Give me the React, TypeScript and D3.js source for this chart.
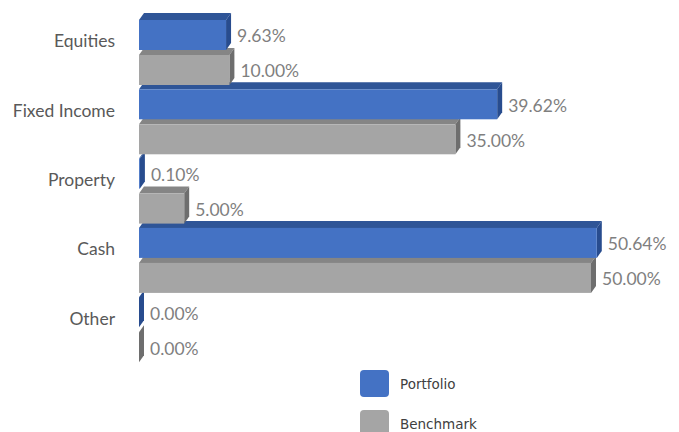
import React from "react";
import * as d3 from "d3";

const categories = ["Equities", "Fixed Income", "Property", "Cash", "Other"];
const seriesNames = ["Portfolio", "Benchmark"];
const portfolio = [9.63, 39.62, 0.1, 50.64, 0.0];
const benchmark = [10.0, 35.0, 5.0, 50.0, 0.0];

const W = 679;
const H = 432;
const DX = 5; // 3d depth, horizontal
const DY = 7; // 3d depth, vertical

const colors: Record<string, { front: string; top: string; side: string }> = {
  Portfolio: { front: "#4472C4", top: "#2F5597", side: "#284C8E" },
  Benchmark: { front: "#A5A5A5", top: "#858585", side: "#6E6E6E" },
};

export default function App() {
  const x = d3.scaleLinear().domain([0, 60]).range([139, 681.4]);
  const y = d3
    .scaleBand<string>()
    .domain(categories)
    .range([20, 362.2])
    .paddingInner(0.062)
    .paddingOuter(0);
  const ySub = d3
    .scaleBand<string>()
    .domain(seriesNames)
    .range([0, y.bandwidth()])
    .paddingInner(0.143);
  const h = ySub.bandwidth();

  const bars = categories.flatMap((c, i) =>
    seriesNames.map((s) => ({
      cat: c,
      series: s,
      value: s === "Portfolio" ? portfolio[i] : benchmark[i],
    }))
  );
  // paint from bottom to top so upper fronts cover lower top faces
  const ordered = [...bars].reverse();

  return (
    <svg
      width={W}
      height={H}
      style={{ position: "absolute", left: 0, top: 0, background: "#fff" }}
    >
      {ordered.map((b) => {
        const x0 = x(0);
        const x1 = x(b.value);
        const y0 = (y(b.cat) ?? 0) + (ySub(b.series) ?? 0);
        const y1 = y0 + h;
        const col = colors[b.series];
        const top = `${x0},${y0} ${x0 + DX},${y0 - DY} ${x1 + DX},${y0 - DY} ${x1},${y0}`;
        const side = `${x1},${y0} ${x1 + DX},${y0 - DY} ${x1 + DX},${y1 - DY} ${x1},${y1}`;
        return (
          <g key={b.cat + b.series}>
            <polygon points={top} fill={col.top} />
            <polygon points={side} fill={col.side} />
            <rect x={x0} y={y0} width={Math.max(0, x1 - x0)} height={h} fill={col.front} />
          </g>
        );
      })}

      {bars.map((b) => {
        const y0 = (y(b.cat) ?? 0) + (ySub(b.series) ?? 0);
        return (
          <text
            key={"l" + b.cat + b.series}
            x={x(b.value) + DX + 6}
            y={y0 + h / 2 + 3}
            dominantBaseline="middle"
            fontFamily="Lato, sans-serif"
            fontSize={17.5}
            fill="#7F7F7F"
          >
            {b.value.toFixed(2) + "%"}
          </text>
        );
      })}

      {categories.map((c) => (
        <text
          key={"c" + c}
          x={115}
          y={(y(c) ?? 0) + (ySub("Portfolio") ?? 0) + h / 2 + 8}
          textAnchor="end"
          dominantBaseline="middle"
          fontFamily="Lato, sans-serif"
          fontSize={17.5}
          fill="#595959"
        >
          {c}
        </text>
      ))}

      {seriesNames.map((s, i) => (
        <g key={"lg" + s} transform={`translate(360, ${370 + i * 40})`}>
          <rect width={29} height={27} rx={4} fill={colors[s].front} />
          <text
            x={40}
            y={15}
            dominantBaseline="middle"
            fontFamily="DejaVu Sans, sans-serif"
            fontSize={13.5}
            fill="#404040"
          >
            {s}
          </text>
        </g>
      ))}
    </svg>
  );
}
